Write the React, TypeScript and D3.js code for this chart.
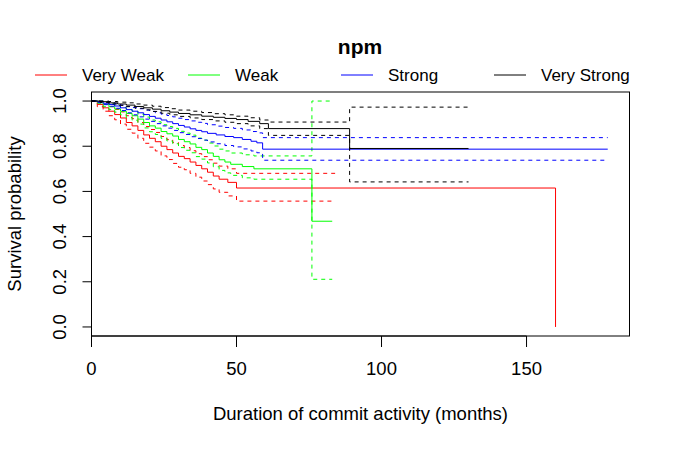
import React from "react";
import * as d3 from "d3";

// Kaplan-Meier estimates, one set per stratum
const redTime = [0, 2, 4, 6, 8, 10, 12, 14, 16, 18, 20, 22, 24, 26, 28, 30, 32, 34, 36, 38, 40, 42, 44, 47, 50, 160];
const redSurv = [1, 0.985, 0.97, 0.955, 0.94, 0.925, 0.905, 0.89, 0.87, 0.85, 0.835, 0.82, 0.8, 0.785, 0.77, 0.755, 0.745, 0.73, 0.715, 0.7, 0.685, 0.668, 0.654, 0.64, 0.615, 0];
const redUpper = [1, 0.995, 0.985, 0.975, 0.963, 0.952, 0.935, 0.922, 0.905, 0.887, 0.874, 0.861, 0.843, 0.829, 0.816, 0.803, 0.794, 0.78, 0.767, 0.754, 0.74, 0.725, 0.712, 0.7, 0.68];
const redLower = [1, 0.975, 0.955, 0.935, 0.917, 0.898, 0.875, 0.858, 0.835, 0.813, 0.796, 0.779, 0.757, 0.741, 0.724, 0.707, 0.696, 0.68, 0.663, 0.646, 0.63, 0.611, 0.596, 0.58, 0.557];
const redEnd = 160;
const redCiEnd = 84;

const greenTime = [0, 2, 4, 6, 8, 10, 12, 14, 16, 18, 20, 22, 24, 26, 28, 30, 32, 34, 36, 38, 40, 42, 44, 46, 48, 52, 56, 76];
const greenSurv = [1, 0.995, 0.985, 0.975, 0.965, 0.955, 0.945, 0.935, 0.92, 0.905, 0.89, 0.88, 0.865, 0.855, 0.845, 0.83, 0.82, 0.81, 0.795, 0.785, 0.77, 0.755, 0.74, 0.73, 0.72, 0.71, 0.7, 0.468];
const greenUpper = [1, 1, 0.995, 0.987, 0.979, 0.971, 0.963, 0.955, 0.942, 0.929, 0.916, 0.908, 0.895, 0.887, 0.879, 0.866, 0.858, 0.849, 0.836, 0.827, 0.814, 0.801, 0.787, 0.779, 0.77, 0.762, 0.757, 1.0];
const greenLower = [1, 0.99, 0.975, 0.963, 0.951, 0.939, 0.927, 0.915, 0.898, 0.881, 0.864, 0.852, 0.835, 0.823, 0.811, 0.794, 0.782, 0.771, 0.754, 0.743, 0.726, 0.709, 0.693, 0.682, 0.671, 0.66, 0.654, 0.211];
const greenEnd = 83;
const greenCiEnd = 83;

const blueTime = [0, 2, 4, 6, 8, 10, 12, 14, 16, 18, 20, 22, 24, 26, 28, 30, 32, 34, 36, 38, 40, 43, 46, 49, 52, 55, 57, 59];
const blueSurv = [1, 0.997, 0.99, 0.985, 0.978, 0.97, 0.962, 0.955, 0.948, 0.94, 0.932, 0.924, 0.916, 0.908, 0.9, 0.892, 0.885, 0.877, 0.87, 0.864, 0.857, 0.85, 0.843, 0.838, 0.83, 0.822, 0.815, 0.787];
const blueUpper = [1, 1, 0.996, 0.993, 0.988, 0.982, 0.976, 0.971, 0.966, 0.96, 0.954, 0.948, 0.942, 0.936, 0.93, 0.924, 0.918, 0.912, 0.906, 0.901, 0.895, 0.889, 0.883, 0.879, 0.872, 0.865, 0.859, 0.838];
const blueLower = [1, 0.993, 0.984, 0.977, 0.968, 0.958, 0.948, 0.939, 0.93, 0.92, 0.91, 0.9, 0.89, 0.88, 0.87, 0.86, 0.852, 0.842, 0.834, 0.827, 0.819, 0.811, 0.803, 0.797, 0.788, 0.779, 0.771, 0.738];
const blueEnd = 178;
const blueCiEnd = 178;

const blackTime = [0, 3, 6, 9, 12, 15, 18, 21, 24, 27, 30, 34, 38, 42, 46, 50, 54, 58, 61, 89];
const blackSurv = [1, 0.997, 0.992, 0.987, 0.982, 0.976, 0.97, 0.964, 0.957, 0.951, 0.945, 0.939, 0.933, 0.928, 0.923, 0.918, 0.91, 0.9, 0.878, 0.79];
const blackUpper = [1, 1, 0.998, 0.995, 0.992, 0.987, 0.982, 0.977, 0.971, 0.966, 0.96, 0.955, 0.949, 0.944, 0.939, 0.933, 0.926, 0.916, 0.907, 0.973];
const blackLower = [1, 0.994, 0.987, 0.981, 0.975, 0.968, 0.961, 0.954, 0.946, 0.939, 0.932, 0.925, 0.918, 0.912, 0.906, 0.9, 0.89, 0.878, 0.848, 0.642];
const blackEnd = 130;
const blackCiEnd = 130;

const groupNames = ["Very Weak", "Weak", "Strong", "Very Strong"];
const groupColors = ["#ff0000", "#00ff00", "#0000ff", "#000000"];
const xTicks = [0, 50, 100, 150];
const yTicks = [0, 0.2, 0.4, 0.6, 0.8, 1.0];

const groups = [
  { time: redTime, surv: redSurv, upper: redUpper, lower: redLower, end: redEnd, ciEnd: redCiEnd },
  { time: greenTime, surv: greenSurv, upper: greenUpper, lower: greenLower, end: greenEnd, ciEnd: greenCiEnd },
  { time: blueTime, surv: blueSurv, upper: blueUpper, lower: blueLower, end: blueEnd, ciEnd: blueCiEnd },
  { time: blackTime, surv: blackSurv, upper: blackUpper, lower: blackLower, end: blackEnd, ciEnd: blackCiEnd },
];

const W = 677;
const H = 452;
const left = 91.5;
const right = 629.5;
const top = 92;
const bottom = 336;
const font = "'Liberation Sans', Arial, Helvetica, sans-serif";

const App = () => {
  const x = d3.scaleLinear().domain([0, 185.5]).range([left, right]);
  const y = d3.scaleLinear().domain([-0.04, 1.04]).range([bottom, top]);

  const stepLine = d3
    .line<[number, number]>()
    .x(d => x(d[0]))
    .y(d => y(d[1]))
    .curve(d3.curveStepAfter);

  const stepPts = (times: number[], vals: number[], end: number) => {
    const pts: [number, number][] = vals.map((v, i) => [times[i], v]);
    const last = pts[pts.length - 1];
    if (end > last[0]) pts.push([end, last[1]]);
    return pts;
  };

  const legendX = [35, 188, 341, 494];

  return (
    <svg width={W} height={H} style={{ position: "absolute", left: 0, top: 0 }} fontFamily={font}>
      <rect width={W} height={H} fill="white" />
      <text x={360} y={54} textAnchor="middle" fontSize={21} fontWeight="bold">
        npm
      </text>
      {groupNames.map((name, i) => (
        <g key={name}>
          <line x1={legendX[i]} x2={legendX[i] + 32} y1={75} y2={75} stroke={groupColors[i]} strokeWidth={1} />
          <text x={legendX[i] + 47} y={81} fontSize={17}>
            {name}
          </text>
        </g>
      ))}

      {groups.map((g, i) => (
        <g key={i} fill="none" stroke={groupColors[i]} strokeWidth={1}>
          <path d={stepLine(stepPts(g.time, g.surv, g.end)) || ""} />
          <path d={stepLine(stepPts(g.time, g.upper, g.ciEnd)) || ""} strokeDasharray="4,4" />
          <path d={stepLine(stepPts(g.time, g.lower, g.ciEnd)) || ""} strokeDasharray="4,4" />
        </g>
      ))}

      <rect x={left} y={top} width={right - left} height={bottom - top} fill="none" stroke="black" strokeWidth={1} />

      {xTicks.map(t => (
        <g key={t}>
          <line x1={x(t)} x2={x(t)} y1={bottom} y2={bottom + 11} stroke="black" />
          <text x={x(t)} y={375} textAnchor="middle" fontSize={18.5}>
            {t}
          </text>
        </g>
      ))}
      <line x1={x(0)} x2={x(150)} y1={bottom} y2={bottom} stroke="black" />
      <text x={(left + right) / 2} y={420} textAnchor="middle" fontSize={18.5}>
        Duration of commit activity (months)
      </text>

      {yTicks.map(t => (
        <g key={t}>
          <line x1={left - 9} x2={left} y1={y(t)} y2={y(t)} stroke="black" />
          <text
            transform={`translate(${66},${y(t)}) rotate(-90)`}
            textAnchor="middle"
            fontSize={18.5}
          >
            {d3.format(".1f")(t)}
          </text>
        </g>
      ))}
      <text transform={`translate(21,${(top + bottom) / 2}) rotate(-90)`} textAnchor="middle" fontSize={18.5}>
        Survival probability
      </text>
    </svg>
  );
};

export default App;
